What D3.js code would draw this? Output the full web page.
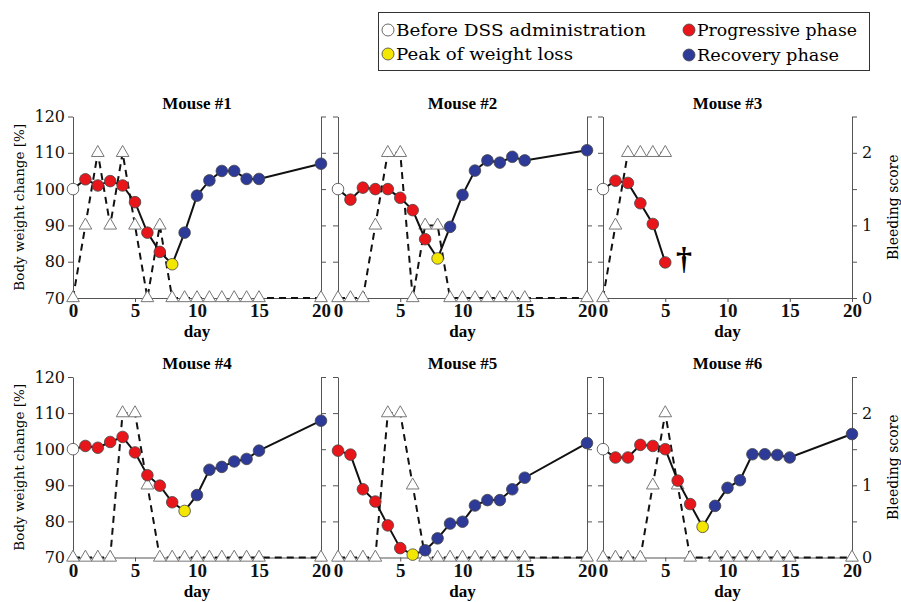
<!DOCTYPE html>
<html>
<head>
<meta charset="utf-8">
<script src="https://cdn.jsdelivr.net/npm/d3@7"></script>
<style>
  body { margin: 0; background: #fff; }
  svg { display: block; }
  .axis path, .axis line { stroke: #555; stroke-width: 1; }
  .axis text { fill: #111; }
</style>
</head>
<body>
<svg id="chart" width="901" height="602"></svg>
<script>
// days of measurement
const days = [0, 1, 2, 3, 4, 5, 6, 7, 8, 9, 10, 11, 12, 13, 14, 15, 20]
const days3 = [0, 1, 2, 3, 4, 5]

// phase codes: b = before DSS, p = progressive, k = peak, r = recovery
const weight1 = [100, 102.7, 101, 102.2, 101, 96.4, 88, 82.7, 79.3, 88, 98.2, 102.4, 105, 105, 102.8, 102.8, 107]
const bleed1 = [0, 1, 2, 1, 2, 1, 0, 1, 0, 0, 0, 0, 0, 0, 0, 0, 0]
const phase1 = ['b', 'p', 'p', 'p', 'p', 'p', 'p', 'p', 'k', 'r', 'r', 'r', 'r', 'r', 'r', 'r', 'r']

const weight2 = [100, 97.1, 100.4, 100, 100, 97.6, 94.2, 86.2, 80.9, 89.6, 98.4, 105.1, 107.9, 107.3, 108.9, 107.9, 110.7]
const bleed2 = [0, 0, 0, 1, 2, 2, 0, 1, 1, 0, 0, 0, 0, 0, 0, 0, 0]
const phase2 = ['b', 'p', 'p', 'p', 'p', 'p', 'p', 'p', 'k', 'r', 'r', 'r', 'r', 'r', 'r', 'r', 'r']

const weight3 = [100, 102.3, 101.7, 96.1, 90.4, 79.8]
const bleed3 = [0, 1, 2, 2, 2, 2]
const phase3 = ['b', 'p', 'p', 'p', 'p', 'p']

const weight4 = [100, 100.9, 100.4, 102, 103.4, 99.1, 92.8, 89.9, 85.3, 82.9, 87.3, 94.3, 95.1, 96.6, 97.3, 99.6, 107.9]
const bleed4 = [0, 0, 0, 0, 2, 2, 1, 0, 0, 0, 0, 0, 0, 0, 0, 0, 0]
const phase4 = ['b', 'p', 'p', 'p', 'p', 'p', 'p', 'p', 'p', 'k', 'r', 'r', 'r', 'r', 'r', 'r', 'r']

const weight5 = [99.6, 98.5, 88.9, 85.5, 78.9, 72.6, 70.8, 72, 75.3, 79.4, 79.9, 84.4, 85.9, 85.9, 88.9, 92.1, 101.7]
const bleed5 = [0, 0, 0, 0, 2, 2, 1, 0, 0, 0, 0, 0, 0, 0, 0, 0, 0]
const phase5 = ['p', 'p', 'p', 'p', 'p', 'p', 'k', 'r', 'r', 'r', 'r', 'r', 'r', 'r', 'r', 'r', 'r']

const weight6 = [100, 97.7, 97.7, 101.2, 100.9, 100, 91.3, 84.8, 78.5, 84.3, 89.3, 91.4, 98.6, 98.6, 98.4, 97.7, 104.2]
const bleed6 = [0, 0, 0, 0, 1, 2, 1, 0, null, 0, 0, 0, 0, 0, 0, 0, 0]
const phase6 = ['b', 'p', 'p', 'p', 'p', 'p', 'p', 'p', 'k', 'r', 'r', 'r', 'r', 'r', 'r', 'r', 'r']

const mouseNames = ['Mouse #1', 'Mouse #2', 'Mouse #3', 'Mouse #4', 'Mouse #5', 'Mouse #6']
const deathMark = { mouse: 2, day: 6.5, weight: 80.5 }  // mouse #3 died

const weightTicks = [70, 80, 90, 100, 110, 120]
const bleedTicks = [0, 0.5, 1, 1.5, 2, 2.5]
const dayTicks = [0, 5, 10, 15, 20]

const legendLabels = ['Before DSS administration', 'Peak of weight loss', 'Progressive phase', 'Recovery phase']
const legendPhases = ['b', 'k', 'p', 'r']

const phaseColor = { b: '#ffffff', p: '#e8161b', k: '#f3e600', r: '#2e3a98' }

const mice = [
  { days: days, weight: weight1, bleed: bleed1, phase: phase1 },
  { days: days, weight: weight2, bleed: bleed2, phase: phase2 },
  { days: days3, weight: weight3, bleed: bleed3, phase: phase3 },
  { days: days, weight: weight4, bleed: bleed4, phase: phase4 },
  { days: days, weight: weight5, bleed: bleed5, phase: phase5 },
  { days: days, weight: weight6, bleed: bleed6, phase: phase6 }
]

// regular text falls back to sans with Liberation Serif here, so use DejaVu Serif for it
const serif = 'DejaVu Serif, serif'
const serifBold = 'Liberation Serif, DejaVu Serif, serif'
const svg = d3.select('#chart')

// panel layout
const cols = [[73, 321], [338, 587], [603, 852]]
const rows = [[116.5, 298], [377, 557.5]]

mice.forEach(function (m, i) {
  let col = i % 3
  let row = Math.floor(i / 3)
  let x = d3.scaleLinear().domain([0, 20]).range(cols[col])
  let y = d3.scaleLinear().domain([70, 120]).range([rows[row][1], rows[row][0]])
  let yb = d3.scaleLinear().domain([0, 2.5]).range([rows[row][1], rows[row][0]])

  let g = svg.append('g')

  // ось x
  let xAxis = d3.axisBottom(x).tickValues(dayTicks).tickSize(4).tickSizeOuter(0).tickPadding(2)
  let gX = g.append('g')
    .attr('class', 'axis')
    .attr('transform', 'translate(0,' + rows[row][1] + ')')
    .call(xAxis)
    .attr('font-family', serifBold)
  gX.selectAll('text')
    .style('font-size', '19px')
    .style('font-weight', 'bold')

  // body weight axis
  let yAxis = d3.axisLeft(y).tickValues(weightTicks).tickSize(5).tickSizeOuter(0).tickPadding(3)
    .tickFormat(col === 0 ? d3.format('d') : '')
  let gY = g.append('g')
    .attr('class', 'axis')
    .attr('transform', 'translate(' + cols[col][0] + ',0)')
    .call(yAxis)
    .attr('font-family', serif)
  gY.selectAll('text')
    .style('font-size', '16px')

  // bleeding score axis
  let ybAxis = d3.axisRight(yb).tickValues(bleedTicks).tickSize(5).tickSizeOuter(0).tickPadding(5)
    .tickFormat(function (d) { return col === 2 && d % 1 === 0 ? d : '' })
  let gYb = g.append('g')
    .attr('class', 'axis')
    .attr('transform', 'translate(' + cols[col][1] + ',0)')
    .call(ybAxis)
    .attr('font-family', serif)
  gYb.selectAll('text')
    .style('font-size', '16px')

  // title
  g.append('text')
    .attr('x', (cols[col][0] + cols[col][1]) / 2)
    .attr('y', rows[row][0] - 8)
    .attr('text-anchor', 'middle')
    .attr('font-family', serifBold)
    .style('font-size', '17px')
    .style('font-weight', 'bold')
    .text(mouseNames[i])

  // x label
  g.append('text')
    .attr('x', (cols[col][0] + cols[col][1]) / 2)
    .attr('y', rows[row][1] + 39)
    .attr('text-anchor', 'middle')
    .attr('font-family', serifBold)
    .style('font-size', '17px')
    .style('font-weight', 'bold')
    .text('day')

  let pts = m.days.map(function (d, j) {
    return { day: d, weight: m.weight[j], bleed: m.bleed[j], phase: m.phase[j] }
  })
  let bleedPts = pts.filter(function (d) { return d.bleed !== null })

  // bleeding score (dashed)
  let bleedLine = d3.line()
    .x(function (d) { return x(d.day) })
    .y(function (d) { return yb(d.bleed) })
  g.append('path')
    .datum(bleedPts)
    .attr('d', bleedLine)
    .attr('fill', 'none')
    .attr('stroke', '#111')
    .attr('stroke-width', 2)
    .attr('stroke-dasharray', '7,5')

  g.selectAll('.tri')
    .data(bleedPts)
    .enter()
    .append('path')
    .attr('class', 'tri')
    .attr('d', d3.symbol().type(d3.symbolTriangle).size(70))
    .attr('transform', function (d) { return 'translate(' + x(d.day) + ',' + yb(d.bleed) + ')' })
    .attr('fill', '#fff')
    .attr('stroke', '#777')
    .attr('stroke-width', 1)

  // body weight (solid)
  let weightLine = d3.line()
    .x(function (d) { return x(d.day) })
    .y(function (d) { return y(d.weight) })
  g.append('path')
    .datum(pts)
    .attr('d', weightLine)
    .attr('fill', 'none')
    .attr('stroke', '#111')
    .attr('stroke-width', 2)

  g.selectAll('.dot')
    .data(pts)
    .enter()
    .append('circle')
    .attr('class', 'dot')
    .attr('cx', function (d) { return x(d.day) })
    .attr('cy', function (d) { return y(d.weight) })
    .attr('r', 5.8)
    .attr('fill', function (d) { return phaseColor[d.phase] })
    .attr('stroke', '#444')
    .attr('stroke-width', 0.8)

  if (deathMark.mouse === i) {
    g.append('text')
      .attr('x', x(deathMark.day))
      .attr('y', y(deathMark.weight))
      .attr('dy', '0.3em')
      .attr('text-anchor', 'middle')
      .attr('font-family', serifBold)
      .style('font-size', '32px')
      .style('font-weight', 'bold')
      .text('\u2020')
  }

  // axis titles
  if (col === 0) {
    g.append('text')
      .attr('transform', 'translate(24,' + (rows[row][0] + rows[row][1]) / 2 + ') rotate(-90)')
      .attr('text-anchor', 'middle')
      .attr('font-family', serif)
      .style('font-size', '13.5px')
      .text('Body weight change [%]')
  }
  if (col === 2) {
    g.append('text')
      .attr('transform', 'translate(898,' + (rows[row][0] + rows[row][1]) / 2 + ') rotate(-90)')
      .attr('text-anchor', 'middle')
      .attr('font-family', serif)
      .style('font-size', '14px')
      .text('Bleeding score')
  }
})

// legend
let legend = svg.append('g')
legend.append('rect')
  .attr('x', 378.5)
  .attr('y', 12.5)
  .attr('width', 491)
  .attr('height', 58)
  .attr('fill', '#fff')
  .attr('stroke', '#333')
  .attr('stroke-width', 1)

const legendX = [388, 388, 689, 689]
const legendY = [30, 54, 30, 55]
const legendW = [250, 177, 160, 142]
legendLabels.forEach(function (label, i) {
  legend.append('circle')
    .attr('cx', legendX[i])
    .attr('cy', legendY[i])
    .attr('r', 6)
    .attr('fill', phaseColor[legendPhases[i]])
    .attr('stroke', '#444')
    .attr('stroke-width', 0.8)
  legend.append('text')
    .attr('x', legendX[i] + 8)
    .attr('y', legendY[i] + 6)
    .attr('textLength', legendW[i])
    .attr('lengthAdjust', 'spacingAndGlyphs')
    .attr('font-family', serif)
    .style('font-size', '16.5px')
    .text(label)
})
</script>
</body>
</html>
